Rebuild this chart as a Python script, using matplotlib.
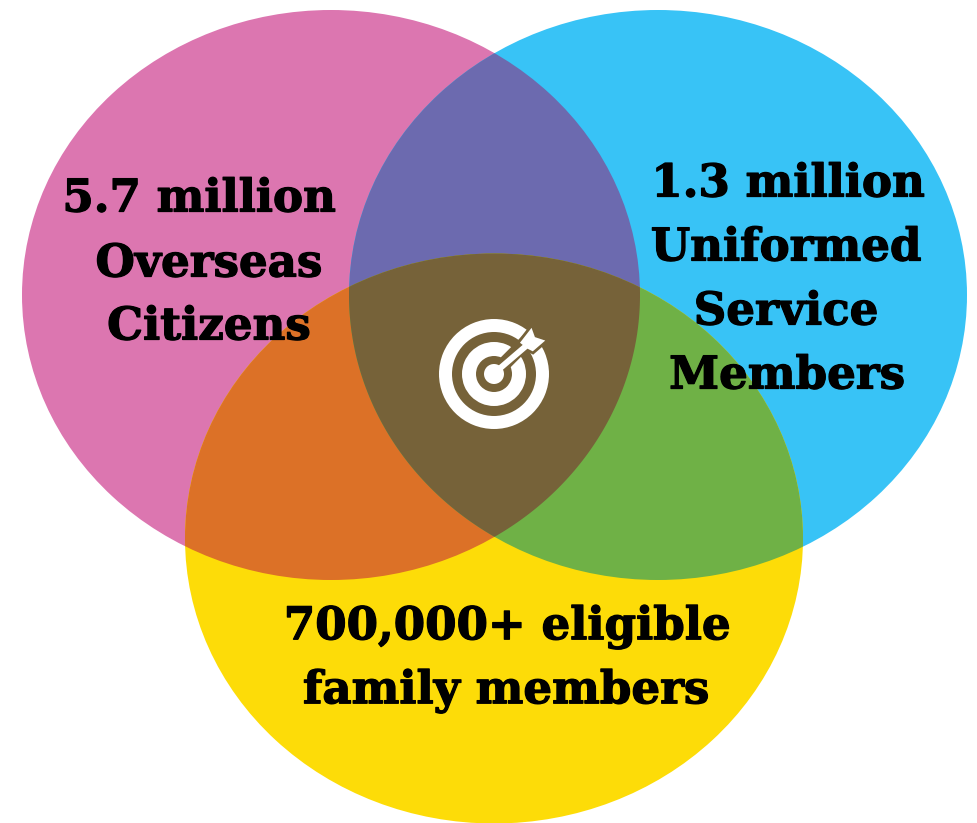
import matplotlib
matplotlib.use('Agg')
import numpy as np
from matplotlib import pyplot as plt
from matplotlib import patheffects
from matplotlib.patches import Ellipse, Circle, Wedge, Polygon

# venn groups
labels = ['5.7 million', 'Overseas', 'Citizens',
          '1.3 million', 'Uniformed', 'Service', 'Members',
          '700,000+ eligible', 'family members']
label_x = [199, 209, 209, 788, 786, 786, 787, 507, 506]
label_y = [199, 264, 327, 184, 248, 312, 376, 627, 691]

pink = '#DC76B0'
blue = '#38C3F6'
yellow = '#FDDC08'
pink_blue = '#6C6AAF'
pink_yellow = '#DC7127'
blue_yellow = '#6FB146'
centre = '#766239'

fig = plt.figure(figsize=(9.77, 8.23), dpi=100)
ax = fig.add_axes([0, 0, 1, 1])
ax.set_xlim(0, 977)
ax.set_ylim(823, 0)
ax.axis('off')


def oval(cx, cy, color):
    return Ellipse((cx, cy), 618, 570, facecolor=color, edgecolor='none')


def pinkc(color):
    return oval(331, 295, color)


def bluec(color):
    return oval(658, 295, color)


def yellowc(color):
    return oval(494, 538.5, color)


ax.add_patch(pinkc(pink))
ax.add_patch(bluec(blue))
ax.add_patch(yellowc(yellow))

# overlaps, clipped with the other oval
for make, clip_make, col in [(pinkc, bluec, pink_blue),
                             (pinkc, yellowc, pink_yellow),
                             (bluec, yellowc, blue_yellow)]:
    p = ax.add_patch(make(col))
    c = clip_make('none')
    c.set_transform(ax.transData)
    p.set_clip_path(c)

# middle piece: pink/blue lens as a polygon, clipped by the yellow oval
t = np.linspace(0, 2 * np.pi, 721)
px = 331 + 309 * np.cos(t)
py = 295 + 285 * np.sin(t)
inside = ((px - 658) / 309) ** 2 + ((py - 295) / 285) ** 2 <= 1
order = np.roll(np.arange(len(t)), -np.where(~inside)[0][0])
lens = np.column_stack([px[order][inside[order]], py[order][inside[order]]])
bx = 658 + 309 * np.cos(t)
by = 295 + 285 * np.sin(t)
inside2 = ((bx - 331) / 309) ** 2 + ((by - 295) / 285) ** 2 <= 1
order = np.roll(np.arange(len(t)), -np.where(~inside2)[0][0])
lens2 = np.column_stack([bx[order][inside2[order]], by[order][inside2[order]]])
mid = Polygon(np.vstack([lens, lens2]), closed=True, facecolor=centre, edgecolor='none')
ax.add_patch(mid)
clip = yellowc('none')
clip.set_transform(ax.transData)
mid.set_clip_path(clip)

# target icon
ix, iy = 494, 374
ax.add_patch(Wedge((ix, iy), 55, 0, 360, width=13, facecolor='white', edgecolor='none'))
ax.add_patch(Wedge((ix, iy), 32, 0, 360, width=14, facecolor='white', edgecolor='none'))
ax.add_patch(Circle((ix, iy), 10, facecolor='white', edgecolor='none'))
ax.plot([ix + 8, 530], [iy - 8, 338], color=centre, lw=10, solid_capstyle='butt', zorder=5)
ax.add_patch(Polygon([(518, 343), (532, 325), (536, 336), (548, 340), (533, 353), (527, 350)],
                     closed=True, facecolor='white', edgecolor=centre, lw=2, zorder=6))
ax.plot([ix + 4, 526], [iy - 4, 346], color='white', lw=4.3, solid_capstyle='butt', zorder=7)

for s, x, y in zip(labels, label_x, label_y):
    ax.text(x, y, s, ha='center', va='center', fontsize=32.5, fontweight='bold',
            family='DejaVu Serif', color='black', zorder=8,
            path_effects=[patheffects.withStroke(linewidth=0.9, foreground='black')])

fig.savefig('out.png', dpi=100, facecolor='white')
